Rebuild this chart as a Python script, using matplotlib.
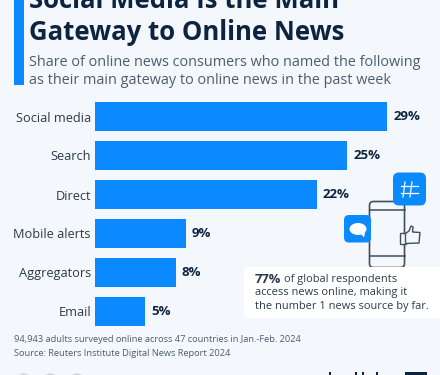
import matplotlib
matplotlib.use("Agg")
import matplotlib.pyplot as plt
from matplotlib.patches import FancyBboxPatch, Rectangle, Circle, Polygon, Ellipse

categories = ["Social media", "Search", "Direct", "Mobile alerts", "Aggregators", "Email"]
values = [29, 25, 22, 9, 8, 5]
value_labels = ["29%", "25%", "22%", "9%", "8%", "5%"]

W, H = 440, 375
BG = "#f4f7fb"; BLUE = "#0b8aff"; NAVY = "#0d2440"; GREY = "#4d5d6e"; DARK = "#2b3a4a"; LINE = "#3f4f5e"
plt.rcParams["font.family"] = ["Open Sans", "DejaVu Sans"]
fig = plt.figure(figsize=(W / 100, H / 100), dpi=100, facecolor=BG)

# full-figure pixel layer
bg = fig.add_axes([0, 0, 1, 1], zorder=0)
bg.set_xlim(0, W); bg.set_ylim(H, 0); bg.axis("off")

# header
bg.add_patch(Rectangle((14, 0), 10, 84.5, color=BLUE, lw=0))
bg.text(29, 1, "Social Media Is the Main", fontsize=18.5, fontweight="bold", color=NAVY, va="center", ha="left")
bg.text(29, 33, "Gateway to Online News", fontsize=18.5, fontweight="bold", color=NAVY, va="center", ha="left")
bg.text(29, 62, "Share of online news consumers who named the following", fontsize=10.4, color=GREY, va="center", ha="left")
bg.text(29, 80, "as their main gateway to online news in the past week", fontsize=10.4, color=GREY, va="center", ha="left")

# bar chart
px_per_unit = 10.07
top, bottom = 97, 331
ax = fig.add_axes([95 / W, 1 - bottom / H, 345 / W, (bottom - top) / H], zorder=1)
ax.patch.set_alpha(0)
ypos = list(range(len(categories)))
ax.barh(ypos, values, height=0.72, color=BLUE)
ax.set_xlim(0, 345 / px_per_unit)
ax.set_ylim(len(categories) - 0.5, -0.5)
ax.set_yticks(ypos, categories)
ax.set_xticks([])
ax.tick_params(axis="y", length=0, pad=2.9, labelsize=9.2, labelcolor=DARK)
for s in ax.spines.values():
    s.set_visible(False)
for y, v, lab in zip(ypos, values, value_labels):
    ax.annotate(lab, (v, y), xytext=(4.6, 0), textcoords="offset points", va="center", ha="left",
                fontsize=9.5, fontweight="bold", color=NAVY)

# illustration + callout layer
fg = fig.add_axes([0, 0, 1, 1], zorder=2)
fg.set_xlim(0, W); fg.set_ylim(H, 0); fg.axis("off"); fg.patch.set_alpha(0)

# phone
fg.add_patch(FancyBboxPatch((369.5, 201.5), 35, 66, boxstyle="round,pad=0,rounding_size=4", fc="none", ec=LINE, lw=1.2))
fg.plot([369.5, 404.5], [210, 210], color=LINE, lw=1.1)
fg.plot([369.5, 404.5], [256, 256], color=LINE, lw=1.1)
# hash tile
fg.add_patch(FancyBboxPatch((393, 172.5), 33, 33, boxstyle="round,pad=0,rounding_size=6", fc=BLUE, ec="none"))
for x0, x1 in [(405, 403), (412, 410)]:
    fg.plot([x0, x1], [182, 197], color="white", lw=0.9)
for y0 in [185.5, 192.5]:
    fg.plot([401, 418], [y0, y0], color="white", lw=0.9)
# message tile
fg.add_patch(FancyBboxPatch((344, 215), 27, 27.5, boxstyle="round,pad=0,rounding_size=5", fc=BLUE, ec="none"))
fg.add_patch(Ellipse((358, 229), 17, 12, fc="white", ec="none"))
fg.add_patch(Polygon([[360, 233], [365, 233], [364, 237.5]], fc="white", ec="none"))
# thumb
fg.add_patch(Rectangle((399.5, 232.5), 6, 11, fc=BG, ec=LINE, lw=1))
fg.add_patch(Polygon([[405.5, 233.5], [409, 231], [411, 226], [413, 227], [412.5, 232], [420, 232.5],
                      [419, 243], [405.5, 243.5]], fc=BG, ec=LINE, lw=1))

# callout
fg.add_patch(FancyBboxPatch((244, 267), 210, 51, boxstyle="round,pad=0,rounding_size=5", fc="white", ec="none"))
fg.text(255, 279.5, "77%", fontsize=9.3, fontweight="bold", color=DARK, va="center", ha="left")
fg.text(284.5, 279.5, "of global respondents", fontsize=7.9, color=DARK, va="center", ha="left")
fg.text(255, 293, "access news online, making it", fontsize=7.9, color=DARK, va="center", ha="left")
fg.text(255, 307, "the number 1 news source by far.", fontsize=7.9, color=DARK, va="center", ha="left")

# footer
fg.text(13.5, 340, "94,943 adults surveyed online across 47 countries in Jan.-Feb. 2024", fontsize=6.65, color=GREY, va="center", ha="left")
fg.text(13.5, 354, "Source: Reuters Institute Digital News Report 2024", fontsize=6.65, color=GREY, va="center", ha="left")
for cx in [24, 50, 77]:
    fg.add_patch(Circle((cx, 382), 8.5, fc="#cfd4d9", ec="none"))
# cropped logo at the lower edge
for x0, w in [(329, 2), (355, 2), (362, 2), (376, 2), (405, 22)]:
    fg.add_patch(Rectangle((x0, 372), w, 4, fc=NAVY, ec="none"))

fig.savefig("out.png", dpi=100, facecolor=BG)
